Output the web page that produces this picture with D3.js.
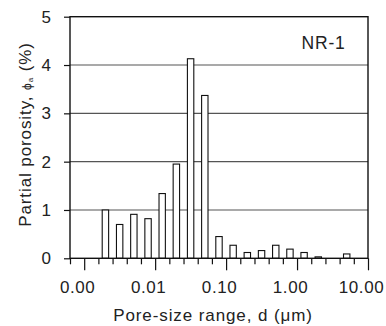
<!DOCTYPE html>
<html>
<head>
<meta charset="utf-8">
<script src="https://cdn.jsdelivr.net/npm/d3@7"></script>
<style>
  html, body { margin: 0; padding: 0; background: #fff; }
  svg { display: block; font-family: "Liberation Sans", Arial, Helvetica, sans-serif; }
</style>
</head>
<body>
<svg id="chart" width="386" height="326"></svg>
<script>
// ---- data ----
const binLow  = [0.00158, 0.00251, 0.00398, 0.00631, 0.0100, 0.0158, 0.0251, 0.0398, 0.0631,
                 0.100, 0.158, 0.251, 0.398, 0.631, 1.00, 1.58, 2.51, 3.98];
const binHigh = [0.00251, 0.00398, 0.00631, 0.0100, 0.0158, 0.0251, 0.0398, 0.0631, 0.100,
                 0.158, 0.251, 0.398, 0.631, 1.00, 1.58, 2.51, 3.98, 6.31];
const porosity = [1.00, 0.70, 0.91, 0.82, 1.34, 1.95, 4.13, 3.37, 0.45,
                  0.27, 0.12, 0.16, 0.27, 0.19, 0.12, 0.03, 0.00, 0.09];
const xMajorTicks = [0.001, 0.01, 0.1, 1, 10];
const xTickLabels = ["0.00", "0.01", "0.10", "1.00", "10.00"];
const yTicks = [0, 1, 2, 3, 4, 5];
const sampleLabel = "NR-1";

// ---- layout ----
const svg = d3.select("#chart");
const L = 70, R = 368, T = 16.7, B = 258.3;
const x = d3.scaleLog().domain([Math.pow(10, -3.2), 10]).range([L, R]);
const y = d3.scaleLinear().domain([0, 5]).range([B, T]);

// gridlines
svg.append("g").selectAll("line").data(yTicks.filter(d => d > 0 && d < 5)).join("line")
  .attr("x1", L).attr("x2", R).attr("y1", d => y(d)).attr("y2", d => y(d))
  .attr("stroke", "#555").attr("stroke-width", 1.2);

// bars
const bars = binLow.map((lo, i) => ({lo, hi: binHigh[i], v: porosity[i]}));
svg.append("g").selectAll("rect").data(bars.filter(d => d.v > 0)).join("rect")
  .attr("x", d => { const c = x(Math.sqrt(d.lo * d.hi)); const w = 0.45 * (x(d.hi) - x(d.lo)); return c - w / 2; })
  .attr("width", d => 0.45 * (x(d.hi) - x(d.lo)))
  .attr("y", d => y(d.v))
  .attr("height", d => y(0) - y(d.v))
  .attr("fill", "#fff").attr("stroke", "#111").attr("stroke-width", 1.1);

// frame
svg.append("rect").attr("x", L).attr("y", T).attr("width", R - L).attr("height", B - T)
  .attr("fill", "none").attr("stroke", "#111").attr("stroke-width", 1.4);

// y axis
const yAxis = d3.axisLeft(y).tickValues(yTicks).tickSize(6).tickPadding(13).tickFormat(d3.format("d"));
const gy = svg.append("g").attr("transform", `translate(${L},0)`).call(yAxis);
gy.select(".domain").remove();
gy.selectAll(".tick line").attr("stroke", "#111").attr("stroke-width", 1.2);
gy.selectAll(".tick text").attr("font-size", 17).attr("fill", "#222")
  .attr("font-family", "'Liberation Sans', Arial, sans-serif");

// x axis minor ticks
const minorTicks = d3.range(-3.2, 1.01, 0.2).map(e => Math.pow(10, e))
  .filter(v => !xMajorTicks.some(m => Math.abs(Math.log10(v) - Math.log10(m)) < 1e-6));
const xMinor = d3.axisBottom(x).tickValues(minorTicks).tickSize(6).tickFormat("");
const gxm = svg.append("g").attr("transform", `translate(0,${B})`).call(xMinor);
gxm.select(".domain").remove();
gxm.selectAll(".tick line").attr("stroke", "#111").attr("stroke-width", 1.2);

// x axis major ticks
const xMajor = d3.axisBottom(x).tickValues(xMajorTicks).tickSize(12).tickPadding(11)
  .tickFormat((d, i) => xTickLabels[i]);
const gx = svg.append("g").attr("transform", `translate(0,${B})`).call(xMajor);
gx.select(".domain").remove();
gx.selectAll(".tick line").attr("stroke", "#111").attr("stroke-width", 1.2);
gx.selectAll(".tick text").attr("font-size", 17).attr("fill", "#222")
  .attr("letter-spacing", "0.6px").attr("dx", -7)
  .attr("font-family", "'Liberation Sans', Arial, sans-serif");

// axis titles
svg.append("text").attr("x", 213).attr("y", 321).attr("text-anchor", "middle")
  .attr("font-size", 17).attr("letter-spacing", "0.9px").attr("fill", "#222")
  .text("Pore-size range, d (\u03bcm)");

const yt = svg.append("text")
  .attr("transform", "translate(30.5,134.5) rotate(-90)")
  .attr("text-anchor", "middle").attr("font-size", 17).attr("letter-spacing", "0.9px").attr("fill", "#222");
yt.append("tspan").text("Partial porosity, ");
yt.append("tspan").attr("font-size", 12).text("\u03d5");
yt.append("tspan").attr("font-size", 8).attr("dy", 2).text("a");
yt.append("tspan").attr("dy", -2).text(" (%)");

// sample label
svg.append("text").attr("x", 301.5).attr("y", 49).attr("font-size", 17.5)
  .attr("letter-spacing", "0.8px").attr("fill", "#222").text(sampleLabel);
</script>
</body>
</html>
